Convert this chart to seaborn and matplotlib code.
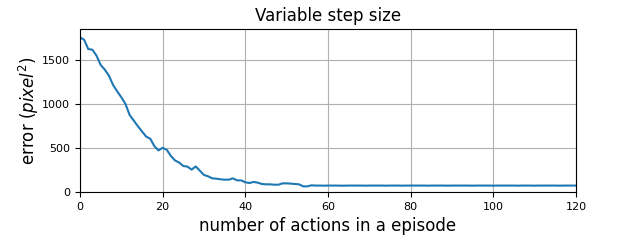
import numpy as np
import pandas as pd
import seaborn as sns
import matplotlib
matplotlib.use("Agg")
import matplotlib.pyplot as plt

# error per step
error_head = [1755, 1728, 1623, 1615, 1547, 1442, 1389, 1321, 1215, 1143,
              1075, 1000, 875, 811, 747, 687, 630, 604, 521, 472,
              502, 479, 408, 358, 334, 295, 288, 254, 290, 242,
              193, 178, 155, 151, 144, 140, 140, 155, 132, 132,
              110, 102, 114, 106, 91, 87, 87, 83, 83, 98,
              98, 95, 91, 87, 64, 64, 76]
error_tail = [73, 73, 72, 73, 73, 73, 72, 72, 73, 73,
              73, 73, 72, 73, 73, 73, 73, 72, 73, 73,
              73, 72, 73, 73, 73, 73, 73, 72, 73, 73,
              73, 73, 72, 73, 73, 73, 73, 73, 72, 73,
              73, 73, 73, 72, 73, 73, 73, 73, 73, 72,
              73, 73, 73, 72, 73, 73, 73, 73, 73, 72,
              73, 73, 73, 73]
error = error_head + error_tail
steps = list(range(len(error)))

df = pd.DataFrame({"step": steps, "error": error})

fig, ax = plt.subplots(figsize=(6.4, 2.4), dpi=100)
fig.subplots_adjust(left=0.125, right=0.9, top=0.879, bottom=0.2)

sns.lineplot(data=df, x="step", y="error", color="#1f77b4", linewidth=1.5, ax=ax)

ax.set_xlim(0, 120)
ax.set_ylim(0, 1850)
ax.set_xticks([0, 20, 40, 60, 80, 100, 120])
ax.set_yticks([0, 500, 1000, 1500])
ax.tick_params(labelsize=8)
ax.grid(True, color="#b0b0b0", linewidth=0.8)
ax.set_title("Variable step size", fontsize=12)
ax.set_xlabel("number of actions in a episode", fontsize=12)
ax.set_ylabel("error ($pixel^2$)", fontsize=12, labelpad=1)

plt.savefig("out.png", dpi=100)
